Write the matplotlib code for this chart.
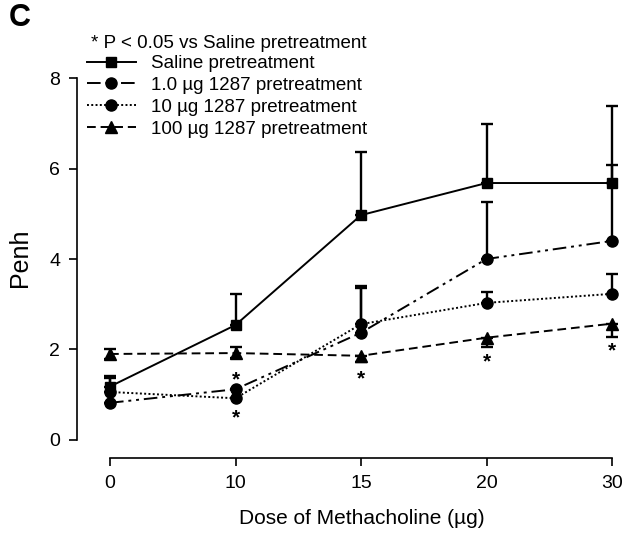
import numpy as np
import matplotlib
matplotlib.use("Agg")
import matplotlib.pyplot as plt
from matplotlib.lines import Line2D

plt.rcParams['font.family'] = ['Liberation Sans', 'DejaVu Sans']

# data
doses = ["0", "10", "15", "20", "30"]
saline = [1.18, 2.54, 4.97, 5.68, 5.68]
saline_up = [0.24, 0.69, 1.40, 1.31, 1.71]
dose1 = [0.82, 1.12, 2.37, 4.00, 4.40]
dose1_up = [0.0, 0.0, 1.03, 1.27, 1.68]
dose10 = [1.06, 0.92, 2.56, 3.03, 3.23]
dose10_up = [0.30, 0.0, 0.80, 0.24, 0.44]
dose100 = [1.90, 1.92, 1.86, 2.26, 2.57]
dose100_up = [0.10, 0.14, 0.0, 0.0, 0.0]
dose100_down = [0.10, 0.10, 0.13, 0.20, 0.29]

# significance stars (dose index, Penh)
star_x = [1, 1, 2, 3, 4]
star_y = [1.44, 0.62, 1.48, 1.84, 2.10]

labels = ["Saline pretreatment", "1.0 \u00b5g 1287 pretreatment",
          "10 \u00b5g 1287 pretreatment", "100 \u00b5g 1287 pretreatment"]

W, H = 622, 535
fig = plt.figure(figsize=(W / 100, H / 100), dpi=100)
ax = fig.add_axes([77 / W, 1 - 458 / H, 1 - 77 / W, (458 - 60) / H])

x = np.arange(len(doses))
zeros = [0] * len(doses)

dashdotdot = (0, (7, 2.5, 1.5, 2.5, 1.5, 2.5))
dotted = (0, (1, 1.2))
dashed = (0, (4.5, 2.5))

series = [
    (saline, [zeros, saline_up], '-', 's', 7.5),
    (dose1, [zeros, dose1_up], dashdotdot, 'o', 8),
    (dose10, [zeros, dose10_up], dotted, 'o', 8),
    (dose100, [dose100_down, dose100_up], dashed, '^', 8),
]

handles = []
for vals, err, ls, mk, ms in series:
    ax.errorbar(x, vals, yerr=err, fmt='none', ecolor='black', elinewidth=1.7,
                capsize=4.5, capthick=1.7, clip_on=False, zorder=2)
    ax.plot(x, vals, color='black', linestyle=ls, linewidth=1.4, marker=mk,
            markersize=ms, clip_on=False, zorder=3)
    handles.append(Line2D([], [], color='black', linestyle=ls, linewidth=1.4,
                          marker=mk, markersize=ms))

for sx, sy in zip(star_x, star_y):
    ax.annotate("*", (sx, sy), xytext=(0, -4), textcoords='offset points',
                ha='center', va='center', fontsize=15, fontweight='bold')

ax.set_xlim(-33 / 125.5, 4 + 10 / 125.5)
ax.set_ylim(-0.4, 8.4)
ax.set_xticks(x)
ax.set_xticklabels(doses)
ax.set_yticks([0, 2, 4, 6, 8])
ax.tick_params(direction='out', length=6, width=1.2, labelsize=14, pad=6)
ax.spines['top'].set_visible(False)
ax.spines['right'].set_visible(False)
ax.spines['left'].set_bounds(0, 8)
ax.spines['bottom'].set_bounds(0, 4)
for s in ('left', 'bottom'):
    ax.spines[s].set_linewidth(1.2)
ax.patch.set_visible(False)

fig.text(20 / W, 1 - 258 / H, "Penh", rotation=90, ha='center', va='center', fontsize=18)
fig.text(362 / W, 1 - 518 / H, "Dose of Methacholine (\u00b5g)", ha='center', va='center',
         fontsize=15)
fig.text(9 / W, 1 - 18 / H, "C", ha='left', va='center', fontsize=22, fontweight='bold')
fig.text(91 / W, 1 - 43 / H, "* P < 0.05 vs Saline pretreatment", ha='left', va='center',
         fontsize=13.5)

fig.legend(handles, labels, loc='upper left', bbox_to_anchor=(87 / W, 1 - 55 / H),
           frameon=False, fontsize=13.5, handlelength=2.6, handletextpad=0.8,
           labelspacing=0.25, borderpad=0, borderaxespad=0)

fig.savefig("out.png", dpi=100)
